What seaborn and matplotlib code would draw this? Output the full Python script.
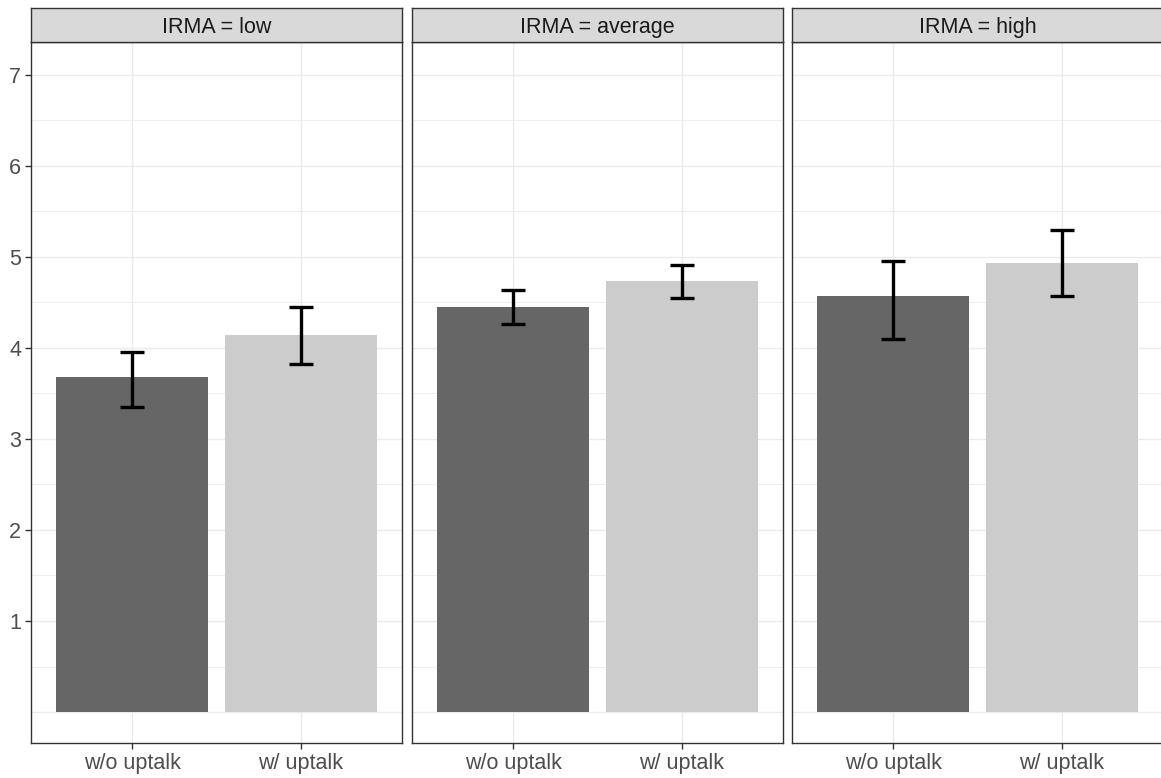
import matplotlib
matplotlib.use("Agg")
import matplotlib.pyplot as plt
import seaborn as sns
import pandas as pd
import numpy as np

# ---- data ----
panels = ["low", "average", "high"]
conditions = ["w/o uptalk", "w/ uptalk"]
means_low = [3.68, 4.14]
means_average = [4.45, 4.74]
means_high = [4.57, 4.93]
lower_low = [3.35, 3.82]
lower_average = [4.26, 4.55]
lower_high = [4.10, 4.57]
upper_low = [3.96, 4.45]
upper_average = [4.64, 4.91]
upper_high = [4.95, 5.29]
y_ticks = [1, 2, 3, 4, 5, 6, 7]

means = {"low": means_low, "average": means_average, "high": means_high}
lowers = {"low": lower_low, "average": lower_average, "high": lower_high}
uppers = {"low": upper_low, "average": upper_average, "high": upper_high}

rows = []
for p in panels:
    for i, c in enumerate(conditions):
        rows.append({"IRMA": p, "condition": c, "mean": means[p][i],
                     "lo": lowers[p][i], "hi": uppers[p][i]})
df = pd.DataFrame(rows)

sns.set_theme(style="white")
plt.rcParams["font.family"] = ["Liberation Sans", "DejaVu Sans"]

W, H = 1161, 778
fig = plt.figure(figsize=(W / 100, H / 100), dpi=100)

palette = {"w/o uptalk": "#666666", "w/ uptalk": "#CCCCCC"}
lefts = [31, 412, 792]
pw = 371
top_px, bot_px = 42, 743
strip_top = 8

axes = []
for k, p in enumerate(panels):
    ax = fig.add_axes([lefts[k] / W, 1 - bot_px / H, pw / W, (bot_px - top_px) / H])
    axes.append(ax)
    sub = df[df["IRMA"] == p]
    ax.set_axisbelow(True)
    # grid
    for y in np.arange(0, 7.01, 0.5):
        lw = 1.0 if float(y).is_integer() else 0.6
        ax.axhline(y, color="#EBEBEB", lw=lw, zorder=0)
    for x in [0, 1]:
        ax.axvline(x, color="#EBEBEB", lw=1.0, zorder=0)
    sns.barplot(data=sub, x="condition", y="mean", hue="condition",
                order=conditions, hue_order=conditions, palette=palette,
                width=0.9, linewidth=0, legend=False, ax=ax, zorder=2)
    xs = np.arange(len(conditions))
    m = sub["mean"].to_numpy()
    ax.errorbar(xs, m, yerr=[m - sub["lo"].to_numpy(), sub["hi"].to_numpy() - m],
                fmt="none", ecolor="black", elinewidth=2.4, capsize=8.5,
                capthick=2.4, zorder=3)
    ax.set_xlim(-0.6, 1.6)
    ax.set_ylim(-0.34, 7.36)
    ax.set_xlabel("")
    ax.set_ylabel("")
    ax.set_yticks(y_ticks)
    for s in ax.spines.values():
        s.set_color("#333333")
        s.set_linewidth(1.0)
        s.set_visible(True)
    ax.tick_params(axis="x", length=4, width=1.0, color="#333333",
                   labelsize=15.5, labelcolor="#4D4D4D", pad=3, bottom=True)
    if k == 0:
        ax.tick_params(axis="y", length=4, width=1.0, color="#333333",
                       labelsize=15.5, labelcolor="#4D4D4D", pad=3, left=True)
    else:
        ax.tick_params(axis="y", left=False, labelleft=False)
    ax.grid(False)
    # strip
    sax = fig.add_axes([lefts[k] / W, 1 - top_px / H, pw / W, (top_px - strip_top) / H])
    sax.set_facecolor("#D9D9D9")
    sax.set_xticks([])
    sax.set_yticks([])
    for s in sax.spines.values():
        s.set_color("#333333")
        s.set_linewidth(1.0)
        s.set_visible(True)
    sax.text(0.5, 0.44, f"IRMA = {p}", ha="center", va="center",
             fontsize=15.5, color="#1A1A1A", transform=sax.transAxes)

fig.savefig("out.png", dpi=100, facecolor="white")
